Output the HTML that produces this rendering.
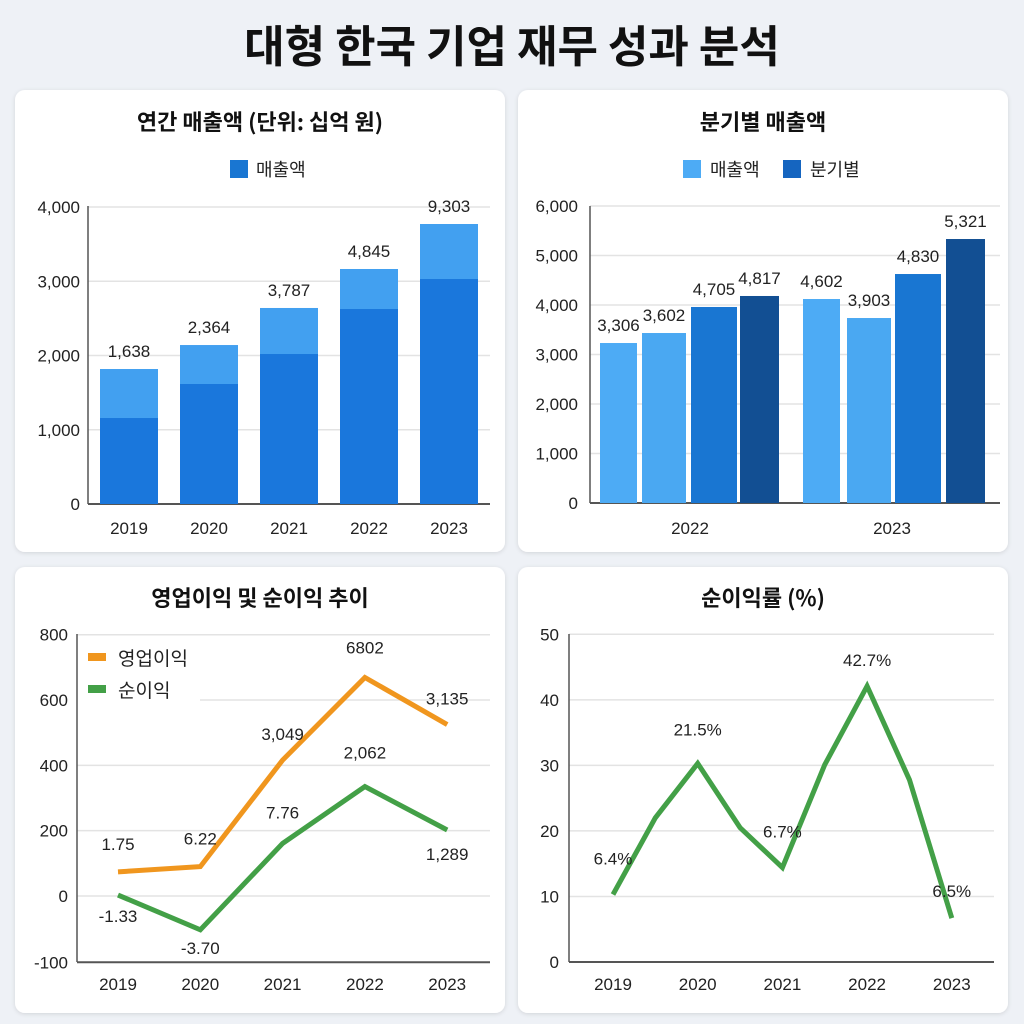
<!DOCTYPE html>
<html><head><meta charset="utf-8">
<style>
html,body{margin:0;padding:0;background:#eef1f6;}
svg{display:block;font-family:"Liberation Sans","Noto Sans CJK KR",sans-serif;}
</style></head>
<body>
<svg id="c" width="1024" height="1024" viewBox="0 0 1024 1024">
<defs><filter id="sh" x="-5%" y="-5%" width="110%" height="110%"><feDropShadow dx="0" dy="1" stdDeviation="2" flood-color="#000" flood-opacity="0.12"/></filter></defs>
<rect width="1024" height="1024" fill="#eef1f6"/>
<text x="512" y="62" text-anchor="middle" font-size="44" font-weight="bold" fill="#111" font-family="'Noto Sans CJK KR',sans-serif">대형 한국 기업 재무 성과 분석</text>
<rect x="15" y="90" width="490" height="462" rx="10" fill="#fff" filter="url(#sh)"/>
<rect x="518" y="90" width="490" height="462" rx="10" fill="#fff" filter="url(#sh)"/>
<rect x="15" y="567" width="490" height="446" rx="10" fill="#fff" filter="url(#sh)"/>
<rect x="518" y="567" width="490" height="446" rx="10" fill="#fff" filter="url(#sh)"/>
<g id="g"></g>
</svg>
<script>
// ---- Chart 1: annual revenue ----
const years = ["2019","2020","2021","2022","2023"];
const annualTotal = [1818,2141,2640,3165,3771];
const annualBase = [1158,1616,2020,2626,3030];
const annualLabels = ["1,638","2,364","3,787","4,845","9,303"];
const annualTicks = [0,1000,2000,3000,4000];
// ---- Chart 2: quarterly ----
const qYears = ["2022","2023"];
const qValues = [[3232,3434,3960,4182],[4121,3737,4626,5333]];
const qLabels = [["3,306","3,602","4,705","4,817"],["4,602","3,903","4,830","5,321"]];
const qTicks = [0,1000,2000,3000,4000,5000,6000];
// ---- Chart 3: profits ----
const opProfit = [74,90,416,669,525];
const netProfit = [3,-51,161,335,202];
const opLabels = ["1.75","6.22","3,049","6802","3,135"];
const netLabels = ["-1.33","-3.70","7.76","2,062","1,289"];
const profitTicks = [-100,0,200,400,600,800];
// ---- Chart 4: margin ----
const marginPos = [0,0.5,1,1.5,2,2.5,3,3.5,4];
const marginVals = [10.3,22,30.3,20.5,14.4,30.1,42.1,27.8,6.7];
const marginLabels = ["6.4%","21.5%","6.7%","42.7%","6.5%"];
const marginLabelIdx = [0,2,4,6,8];
const marginTicks = [0,10,20,30,40,50];

const NS="http://www.w3.org/2000/svg";
const g=document.getElementById('g');
function mk(tag,attrs,txt){const e=document.createElementNS(NS,tag);for(const k in attrs)e.setAttribute(k,attrs[k]);if(txt!=null)e.textContent=txt;g.appendChild(e);return e;}
function fmt(v){return v.toLocaleString('en-US');}
function title(x,y,t,name){const e=mk('text',{x:x,y:y,'text-anchor':'middle','font-size':22,'font-weight':'bold',fill:'#111','font-family':"'Noto Sans CJK KR',sans-serif"},t);

}
function lbl(x,y,t,name,anchor,size){const e=mk('text',{x:x,y:y,'text-anchor':anchor||'middle','font-size':size||17,fill:'#222'},t);

return e;}

// Chart 1
title(260,130,"연간 매출액 (단위: 십억 원)","annual-title");
{let r=mk('rect',{x:230,y:160,width:18,height:18,fill:'#1976d2'});


lbl(256,176,"매출액","legend-label-revenue","start",18);}
const y1=v=>504-v*297/4000, x1=i=>129+i*80;
annualTicks.forEach(t=>{let l=mk('line',{x1:88,x2:490,y1:y1(t),y2:y1(t),stroke:t?'#e3e3e3':'#555','stroke-width':t?1.5:2});


lbl(80,y1(t)+6,fmt(t),'y-tick-label','end',17);});
{let a=mk('line',{x1:88,x2:88,y1:206,y2:504,stroke:'#555','stroke-width':1.5});}
years.forEach((yr,i)=>{
let r=mk('rect',{x:x1(i)-29,y:y1(annualTotal[i]),width:58,height:504-y1(annualTotal[i]),fill:'#42a0f0'});


let r2=mk('rect',{x:x1(i)-29,y:y1(annualBase[i]),width:58,height:504-y1(annualBase[i]),fill:'#1a77dc'});


lbl(x1(i),y1(annualTotal[i])-12,annualLabels[i],'bar-value-label');
lbl(x1(i),534,yr,'x-tick-label');});

// Chart 2
title(763,130,"분기별 매출액","quarterly-title");
{let r=mk('rect',{x:683,y:160,width:18,height:18,fill:'#4dabf5'});
lbl(710,176,"매출액","legend-label-revenue","start",18);
let r2=mk('rect',{x:783,y:160,width:18,height:18,fill:'#1565c0'});
lbl(810,176,"분기별","legend-label-quarter","start",18);}
const y2=v=>503-v*297/6000;
const qx=[[600,642,691,740],[803,847,895,946]], qw=[37,44,46,39];
const qCol=['#4dabf5','#4aa8f2','#1976d2','#124f93'];
qTicks.forEach(t=>{let l=mk('line',{x1:590,x2:1000,y1:y2(t),y2:y2(t),stroke:t?'#e3e3e3':'#555','stroke-width':t?1.5:2});


lbl(578,y2(t)+6,fmt(t),'y-tick-label','end',17);});
{let a=mk('line',{x1:590,x2:590,y1:206,y2:503,stroke:'#555','stroke-width':1.5});}
qYears.forEach((yr,gi)=>{qValues[gi].forEach((v,q)=>{
let r=mk('rect',{x:qx[gi][q],y:y2(v),width:qw[q],height:503-y2(v),fill:qCol[q]});


lbl(qx[gi][q]+qw[q]/2,y2(v)-12,qLabels[gi][q],'bar-value-label');});
lbl(gi?892:690,534,yr,'x-tick-label');});

// Chart 3
title(260,606,"영업이익 및 순이익 추이","profit-title");
const y3=v=>v>=0?896-v*261.3/800:896-v*66.3/100, x3=i=>118+i*82.3;
profitTicks.forEach(t=>{let l=mk('line',{x1:(t===600?200:77),x2:490,y1:y3(t),y2:y3(t),stroke:t===-100?'#555':'#e3e3e3','stroke-width':t===-100?2:1.5});


lbl(68,y3(t)+6,fmt(t),'y-tick-label','end',17);});
{let a=mk('line',{x1:77,x2:77,y1:634,y2:962,stroke:'#555','stroke-width':1.5});}
function line(vals,xf,yf,col,name){const p=mk('polyline',{points:vals.map((v,i)=>xf(i)+','+yf(v)).join(' '),fill:'none',stroke:col,'stroke-width':5,'stroke-linejoin':'miter'});

}
line(opProfit,x3,y3,'#f0961e','line-operating-profit');
line(netProfit,x3,y3,'#43a047','line-net-profit');
const opOff=[-22,-22,-20,-24,-20], netOff=[27,24,-25,-28,30];
years.forEach((yr,i)=>{lbl(x3(i),y3(opProfit[i])+opOff[i],opLabels[i],'op-value-label');
lbl(x3(i),y3(netProfit[i])+netOff[i],netLabels[i],'net-value-label');
lbl(x3(i),990,yr,'x-tick-label');});
{let r=mk('rect',{x:88,y:653,width:18,height:8,fill:'#f0961e'});
lbl(118,665,"영업이익","legend-label-operating","start",19);
let r2=mk('rect',{x:88,y:685,width:18,height:8,fill:'#43a047'});
lbl(118,697,"순이익","legend-label-net","start",19);}

// Chart 4
title(763,606,"순이익률 (%)","margin-title");
const y4=v=>962-v*327.7/50, x4=p=>613+p*84.7;
marginTicks.forEach(t=>{let l=mk('line',{x1:569,x2:994,y1:y4(t),y2:y4(t),stroke:t?'#e3e3e3':'#555','stroke-width':t?1.5:2});


lbl(559,y4(t)+6,fmt(t),'y-tick-label','end',17);});
{let a=mk('line',{x1:569,x2:569,y1:634,y2:962,stroke:'#555','stroke-width':1.5});}
line(marginVals,i=>x4(marginPos[i]),y4,'#43a047','line-net-margin');
const mOff=[-30,-28,-30,-20,-21];
marginLabelIdx.forEach((idx,k)=>{lbl(x4(marginPos[idx]),y4(marginVals[idx])+mOff[k],marginLabels[k],'margin-value-label');
lbl(x4(k),990,years[k],'x-tick-label');});
</script>
</body></html>
